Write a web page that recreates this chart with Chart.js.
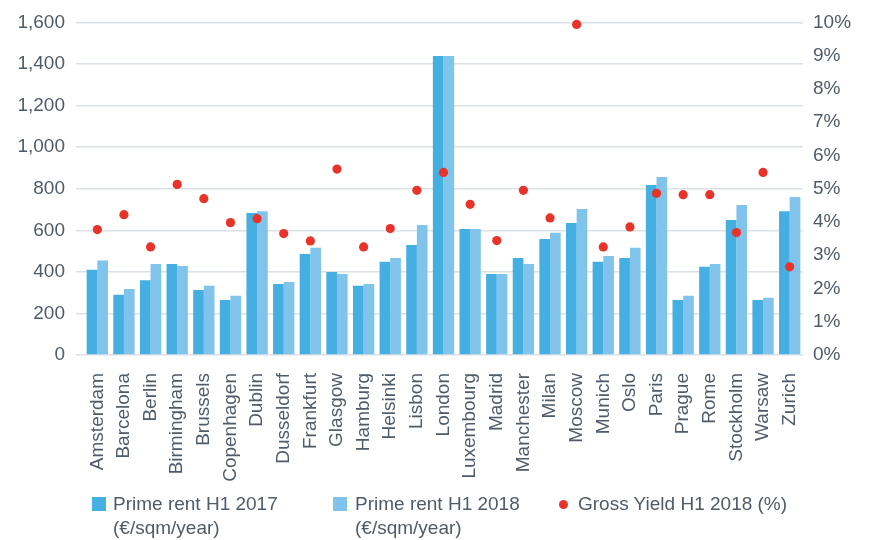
<!DOCTYPE html>
<html>
<head>
<meta charset="utf-8">
<script src="https://cdn.jsdelivr.net/npm/chart.js@4"></script>
<style>
  html, body { margin: 0; padding: 0; background: #fff; }
  #wrap { position: relative; width: 870px; height: 540px; }
  #legend { position: absolute; left: 0; top: 492px; width: 870px; height: 48px;
            font-family: "Liberation Sans", Arial, sans-serif; font-size: 19px;
            line-height: 24px; color: #4f5b66; }
  .item { position: absolute; top: 0; }
  .swatch { position: absolute; }
</style>
</head>
<body>
<div id="wrap">
  <canvas id="rentChart" width="870" height="540"></canvas>
  <div id="legend"></div>
</div>
<script>
// Chart data
const cities = ['Amsterdam', 'Barcelona', 'Berlin', 'Birmingham', 'Brussels', 'Copenhagen', 'Dublin',
    'Dusseldorf', 'Frankfurt', 'Glasgow', 'Hamburg', 'Helsinki', 'Lisbon', 'London', 'Luxembourg',
    'Madrid', 'Manchester', 'Milan', 'Moscow', 'Munich', 'Oslo', 'Paris', 'Prague', 'Rome',
    'Stockholm', 'Warsaw', 'Zurich'];

const rent2017 = [410, 290, 360, 438, 313, 265, 683, 342, 486, 399, 333, 448, 529, 1438, 606,
    390, 467, 558, 635, 448, 467, 818, 265, 424, 650, 265, 692];

const rent2018 = [455, 318, 438, 428, 333, 285, 692, 351, 516, 390, 342, 467, 625, 1438, 606,
    390, 438, 588, 702, 476, 516, 856, 285, 438, 722, 275, 760];

const yield2018 = [3.77, 4.22, 3.25, 5.13, 4.70, 3.98, 4.10, 3.65, 3.43, 5.59, 3.25, 3.80, 4.95,
    5.49, 4.53, 3.44, 4.95, 4.12, 9.94, 3.25, 3.85, 4.86, 4.82, 4.82, 3.68, 5.49, 2.65];

const rentTicks = [0, 200, 400, 600, 800, 1000, 1200, 1400, 1600];
const yieldTicks = [0, 1, 2, 3, 4, 5, 6, 7, 8, 9, 10];

const seriesLabels = [
    ['Prime rent H1 2017', '(€/sqm/year)'],
    ['Prime rent H1 2018', '(€/sqm/year)'],
    ['Gross Yield H1 2018 (%)']
];

const colour2017 = '#45afe2';
const colour2018 = '#80c4ec';
const colourYield = '#e8332a';
const textColour = '#4f5b66';
const gridColour = '#dce1e6';
const fontFamily = '"Liberation Sans", Arial, sans-serif';

/**
 * Build the HTML legend below the chart
 */
function buildLegend() {
    const legend = document.getElementById('legend');
    const spots = [
        { box: 92, text: 113, colour: colour2017, kind: 'box' },
        { box: 333, text: 355, colour: colour2018, kind: 'box' },
        { box: 559, text: 578, colour: colourYield, kind: 'dot' }
    ];
    spots.forEach((spot, i) => {
        const sw = document.createElement('div');
        sw.className = 'swatch';
        sw.style.background = spot.colour;
        if (spot.kind === 'box') {
            sw.style.left = spot.box + 'px';
            sw.style.top = '5px';
            sw.style.width = '14px';
            sw.style.height = '14px';
        } else {
            sw.style.left = spot.box + 'px';
            sw.style.top = '8px';
            sw.style.width = '9px';
            sw.style.height = '9px';
            sw.style.borderRadius = '50%';
        }
        legend.appendChild(sw);

        const txt = document.createElement('div');
        txt.className = 'item';
        txt.style.left = spot.text + 'px';
        txt.innerHTML = seriesLabels[i].join('<br>');
        legend.appendChild(txt);
    });
}

buildLegend();

new Chart(document.getElementById('rentChart'), {
    type: 'bar',
    data: {
        labels: cities,
        datasets: [
            {
                type: 'line',
                label: seriesLabels[2].join(' '),
                data: yield2018,
                yAxisID: 'y1',
                showLine: false,
                pointRadius: 4.6,
                pointBackgroundColor: colourYield,
                pointBorderWidth: 0,
                clip: false,
                order: 0
            },
            {
                label: seriesLabels[0].join(' '),
                data: rent2017,
                yAxisID: 'y',
                backgroundColor: colour2017,
                borderWidth: 0,
                categoryPercentage: 0.8,
                barPercentage: 1.0,
                order: 1
            },
            {
                label: seriesLabels[1].join(' '),
                data: rent2018,
                yAxisID: 'y',
                backgroundColor: colour2018,
                borderWidth: 0,
                categoryPercentage: 0.8,
                barPercentage: 1.0,
                order: 1
            }
        ]
    },
    options: {
        responsive: false,
        animation: false,
        layout: { padding: { top: 22, left: 0, right: 0, bottom: 0 } },
        plugins: {
            legend: { display: false },
            tooltip: { enabled: false }
        },
        scales: {
            x: {
                offset: true,
                grid: { display: false },
                border: { display: false },
                ticks: {
                    color: textColour,
                    font: { family: fontFamily, size: 19 },
                    minRotation: 90,
                    maxRotation: 90,
                    autoSkip: false,
                    padding: 10
                },
                afterFit: function(scale) { scale.height = 185; }
            },
            y: {
                position: 'left',
                min: 0,
                max: 1600,
                afterBuildTicks: function(scale) {
                    scale.ticks = rentTicks.map(v => ({ value: v }));
                },
                grid: { color: gridColour, lineWidth: 1.5, tickLength: 8, drawTicks: true },
                border: { display: false },
                ticks: {
                    color: textColour,
                    font: { family: fontFamily, size: 19 },
                    padding: 11,
                    callback: v => v.toLocaleString('en-US')
                },
                afterFit: function(scale) { scale.width = 84; }
            },
            y1: {
                position: 'right',
                min: 0,
                max: 10,
                afterBuildTicks: function(scale) {
                    scale.ticks = yieldTicks.map(v => ({ value: v }));
                },
                grid: { drawOnChartArea: false, drawTicks: false },
                border: { display: false },
                ticks: {
                    color: textColour,
                    font: { family: fontFamily, size: 19 },
                    padding: 10,
                    callback: v => v + '%'
                },
                afterFit: function(scale) { scale.width = 67; }
            }
        }
    }
});
</script>
</body>
</html>
